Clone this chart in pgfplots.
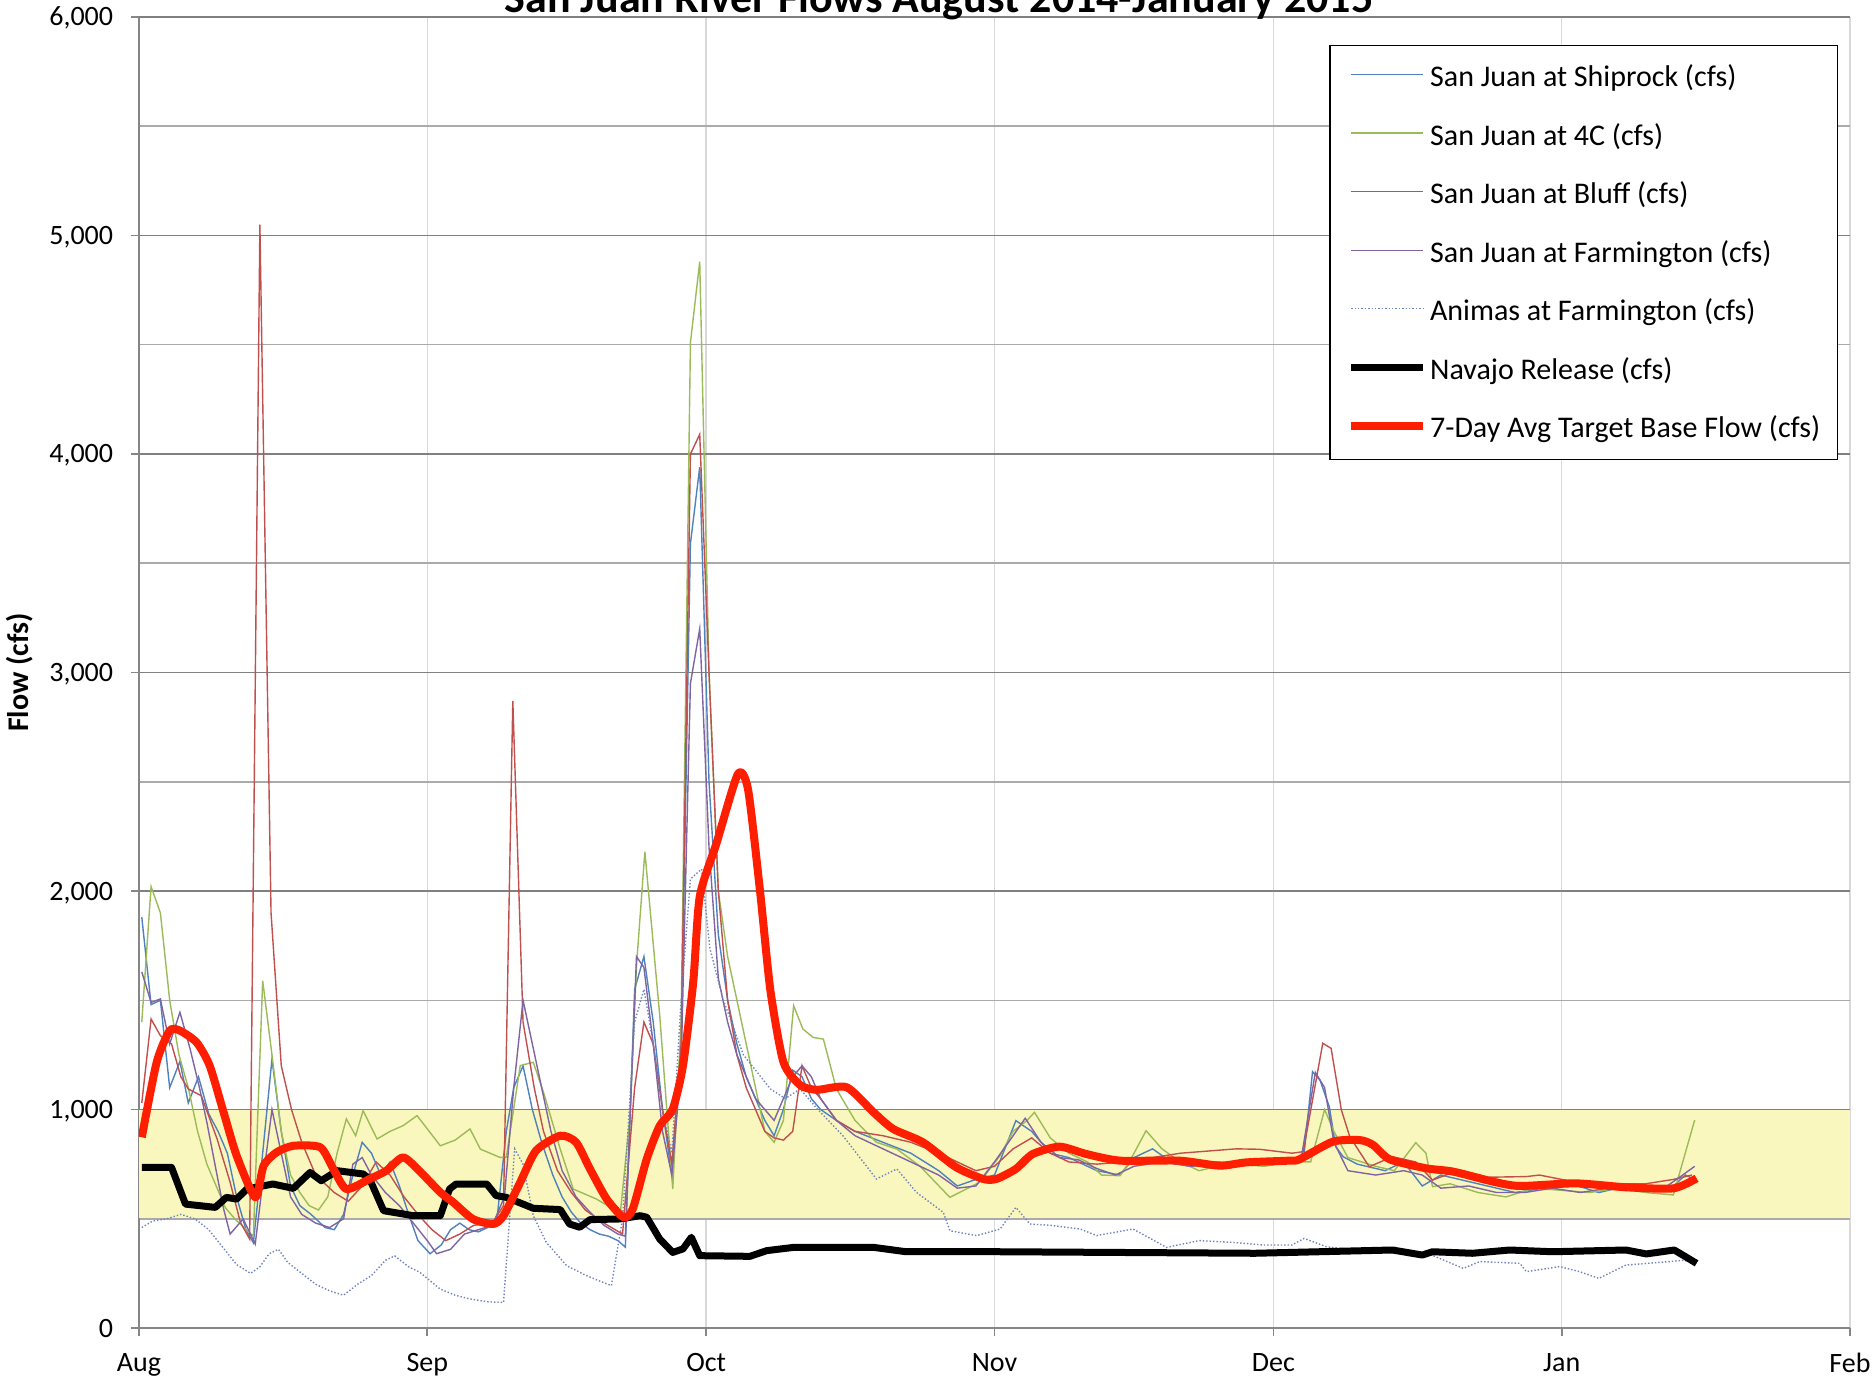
\documentclass[border=0pt]{standalone}
\usepackage{fontspec}
\setmainfont{Carlito}
\usepackage{pgfplots}
\pgfplotsset{compat=1.18}
\definecolor{shipc}{HTML}{4F81BD}
\definecolor{fourc}{HTML}{9BBB59}
\definecolor{bluffc}{HTML}{C0504D}
\definecolor{farmc}{HTML}{8064A2}
\definecolor{animc}{RGB}{110,130,190}
\definecolor{avgc}{RGB}{255,30,0}
\definecolor{bandc}{RGB}{250,247,190}
\definecolor{ygridc}{RGB}{128,128,128}
\definecolor{yminc}{RGB}{170,170,170}
\definecolor{xgridc}{RGB}{217,217,217}
\definecolor{axgray}{RGB}{134,134,134}
\begin{document}
\begin{tikzpicture}
\begin{axis}[
  name=ax,
  scale only axis,
  width=855.5pt, height=655.5pt,
  xmin=0, xmax=184, ymin=0, ymax=6000,
  axis x line*=bottom, axis y line*=left,
  axis line style={color=axgray, line width=1pt},
  xtick={0,31,61,92,122,153,184},
  xticklabels={Aug,Sep,Oct,Nov,Dec,Jan,Feb},
  ytick={0,1000,2000,3000,4000,5000,6000},
  yticklabels={0,{1,000},{2,000},{3,000},{4,000},{5,000},{6,000}},
  minor ytick={500,1500,2500,3500,4500,5500},
  xmajorgrids, ymajorgrids, yminorgrids,
  x grid style={color=xgridc, line width=0.75pt},
  y grid style={color=ygridc, line width=0.75pt},
  minor y grid style={color=yminc, line width=0.75pt},
  tick align=outside,
  major tick length=4pt, minor tick length=0pt,
  tick style={color=axgray, line width=0.8pt},
  tick label style={font=\fontsize{14}{16}\selectfont, text=black},
  xticklabel style={anchor=north, inner sep=0pt, yshift=-8.5pt},
  yticklabel style={anchor=base east, inner sep=0pt, xshift=-8.75pt, yshift=-4.5pt},
  ylabel={Flow (cfs)},
  every axis y label/.style={at={(axis description cs:-0.0696,0.5)}, rotate=90, anchor=center, font=\bfseries\fontsize{15}{18}\selectfont},
  title={San Juan River Flows August 2014-January 2015},
  every axis title/.style={at={(axis description cs:0.4676,1)}, anchor=base, yshift=2pt, font=\bfseries\fontsize{22}{26}\selectfont},
  legend cell align=left,
  legend image code/.code={\draw[#1] (0pt,1.2pt) -- (36pt,1.2pt);},
  legend style={at={(axis description cs:1,1)}, anchor=north east, xshift=-6pt, yshift=-14pt,
    draw=black, line width=0.75pt, fill=white, font=\fontsize{15}{17.5}\selectfont,
    inner xsep=8.5pt, inner ysep=9.4pt, row sep=16.8pt, column sep=1.5pt,
    nodes={inner sep=0pt}},
]
\addplot[fill=bandc, draw=none, forget plot] coordinates {(0,503) (184,503) (184,997) (0,997)} -- cycle;

\addplot[shipc, line width=0.7pt] coordinates {
(0.3,1880)(1.3,1480)(2.3,1500)(3.3,1100)(4.4,1220)(5.3,1030)(6.4,1150)(7.5,980)(8.5,900)(9.5,800)(10.5,600)(11.5,450)(12.3,390)(13.3,800)(14.3,1230)(15.3,900)(16.3,650)(17.3,560)(18.5,520)(20,460)(21,450)(22,520)(23,700)(24,850)(25,800)(26,700)(27,760)(28,650)(29,520)(30,400)(31.3,340)(32.5,380)(33.5,450)(34.5,480)(35.5,450)(36.5,440)(37.5,460)(38.5,500)(39.5,900)(40.3,1100)(41.3,1200)(42.3,1000)(43.3,850)(44.5,700)(45.5,600)(46.5,530)(47.5,480)(48.5,450)(49.5,430)(50.5,420)(51.5,400)(52.3,370)(53.3,1550)(54.3,1700)(55.3,1400)(56.3,1000)(57.3,700)(58.3,1300)(59.3,3590)(60.3,3940)(61.3,2500)(62.3,1800)(63.3,1500)(64.3,1300)(65.3,1150)(66.3,1050)(67.3,950)(68.3,880)(69.3,1000)(70.3,1180)(71.3,1150)(72.3,1050)(73.3,1000)(75,950)(77,900)(80,850)(83,800)(86,720)(88,650)(90,680)(92,700)(94.3,949)(96,900)(98,800)(100,780)(103,720)(105.5,700)(107,780)(109,820)(111,760)(113,740)(116,750)(119,760)(122,750)(124,760)(125.3,800)(126.2,1173)(127,1135)(128,1013)(128.7,830)(129.5,784)(131,750)(134,720)(136,760)(138,650)(140,700)(142,680)(145,650)(148,620)(151,640)(154,660)(157,620)(160,650)(163,640)(165,650)(166.3,700)(167.3,680)
};
\addlegendentry{San Juan at Shiprock (cfs)}

\addplot[fourc, line width=0.7pt] coordinates {
(0.3,1400)(1.3,2020)(2.3,1900)(3.3,1500)(4.3,1250)(5.3,1100)(6.3,900)(7.3,750)(8.3,650)(9.3,550)(10.3,500)(11.3,460)(12.3,420)(13.3,1590)(14.3,1250)(15.3,900)(16.3,700)(17.3,620)(18.3,560)(19.3,540)(20.3,600)(21.3,800)(22.3,957)(23.3,880)(24.1,995)(25.6,865)(27,900)(28.4,926)(29.9,972)(31.3,895)(32.4,834)(34,860)(35.6,911)(36.7,819)(38.8,781)(39.5,781)(41,1201)(42.4,1216)(43.5,1079)(45.3,819)(46.7,636)(49.2,590)(51,545)(51.7,499)(52.8,972)(53.5,1658)(54.4,2180)(56,1430)(57.4,636)(58.3,1400)(59.3,4510)(60.3,4880)(61.3,3000)(62.3,2000)(63.3,1700)(64.3,1500)(65.3,1300)(66.3,1100)(67.3,900)(68.3,850)(69.3,950)(70.4,1475)(71.4,1368)(72.5,1330)(73.6,1322)(75,1094)(77,950)(79.3,850)(81.5,819)(84,740)(87.2,598)(90.4,667)(92.6,789)(94,900)(95.5,950)(96.3,987)(98,870)(100,800)(102,760)(103.5,700)(105.5,697)(106.5,760)(108.3,903)(110,820)(112,760)(114,720)(116,740)(118,750)(121,740)(124,760)(126,760)(127.5,1000)(128.5,900)(130,780)(133,740)(135,720)(137.3,848)(138.4,800)(139.1,647)(141,660)(144,620)(147,600)(150,640)(153,630)(156,620)(159,640)(162,620)(165,609)(167.3,952)
};
\addlegendentry{San Juan at 4C (cfs)}

\addplot[bluffc, line width=0.7pt] coordinates {
(0.3,1030)(1.3,1414)(2.3,1338)(3.5,1300)(4.5,1150)(5.3,1094)(6.7,1063)(8.4,865)(9.8,667)(10.9,484)(11.9,407)(13,5050)(14.2,1900)(15.3,1200)(16.4,1000)(17.5,850)(19,700)(21,620)(22.5,580)(24,650)(25.5,760)(27,700)(28.5,600)(30,520)(31.5,450)(33,400)(34.5,430)(36,470)(38,480)(39.2,560)(40.2,2870)(41.3,1400)(42.5,1100)(43.5,900)(45,720)(46.5,620)(48,540)(50,480)(52,430)(53.3,1100)(54.3,1400)(55.3,1300)(56.3,1000)(57.3,750)(58.3,1300)(59.3,4000)(60.3,4090)(61.3,3000)(62.3,2000)(63.3,1500)(64.3,1250)(65.3,1100)(66.3,1000)(67.3,900)(68.3,870)(69.3,860)(70.3,900)(71.3,1200)(72.3,1100)(73.3,1050)(75,950)(77,900)(80,880)(83,850)(86,800)(88,760)(90,720)(92,740)(94,820)(96,870)(98,800)(100,760)(103,750)(106,760)(109,780)(112,800)(115,810)(118,820)(120.5,818)(124,800)(125.2,807)(127.3,1303)(128.2,1280)(129.3,998)(130.2,876)(132.3,738)(134.8,784)(137.3,760)(139.1,677)(142,723)(145,690)(149.2,693)(150.6,700)(153,680)(156,660)(159,660)(162,660)(165,680)(167,700)
};
\addlegendentry{San Juan at Bluff (cfs)}

\addplot[farmc, line width=0.7pt] coordinates {
(0.3,1630)(1.3,1490)(2.3,1506)(3.3,1300)(4.4,1445)(5.5,1277)(6.5,1100)(7.3,941)(8.3,720)(9.1,545)(9.8,430)(11.2,499)(12.5,384)(13.4,700)(14.3,1000)(15.3,800)(16.3,600)(17.5,520)(19,480)(20.5,460)(22,500)(23,750)(24,780)(25,700)(26.5,620)(28,560)(29.5,480)(31,400)(32,340)(33.5,360)(35,430)(36.5,450)(38,470)(39.3,600)(40.3,1100)(41.3,1500)(42.3,1300)(43.3,1100)(44.3,900)(45.5,720)(47,600)(48.5,530)(50,470)(51.5,430)(52.3,420)(53.5,1700)(54.3,1650)(55.3,1300)(56.3,900)(57.3,700)(58.3,1200)(59.3,2950)(60.3,3200)(61.3,2200)(62.3,1600)(63.3,1400)(64.3,1250)(65.3,1150)(66.3,1050)(67.3,1000)(68.3,950)(69.3,1050)(70.3,1150)(71.3,1200)(72.3,1150)(73.3,1050)(75,950)(77,880)(80,820)(83,760)(86,700)(88,640)(90,650)(92,760)(94,880)(95.3,960)(97,850)(99,780)(101,770)(103,730)(105,700)(107,740)(110,760)(113,740)(116,760)(119,750)(122,760)(125,780)(126.5,1170)(127.5,1100)(128.5,850)(130,720)(133,700)(136,720)(138,700)(140,640)(143,650)(146,620)(149,620)(152,640)(155,620)(158,640)(161,660)(164,640)(166,700)(167.3,740)
};
\addlegendentry{San Juan at Farmington (cfs)}

\addplot[animc, line width=0.7pt, densely dotted] coordinates {
(0.3,460)(1.5,490)(3,500)(4.5,520)(6,500)(7.5,450)(9,370)(10.5,290)(12,250)(13,280)(14,340)(15,360)(16,300)(17.5,250)(19,200)(20.5,170)(22,150)(23.5,200)(25,240)(26.5,310)(27.5,330)(29,280)(30.2,255)(32.4,178)(34,150)(35.6,133)(37.5,120)(39.2,117)(40.4,820)(41.3,750)(42.4,514)(43.8,392)(46,285)(48.1,240)(49.9,209)(50.8,194)(52,500)(53.3,1400)(54.3,1550)(55.3,1300)(56.3,1000)(57.3,800)(58.3,1500)(59.3,2055)(60.5,2100)(61.4,1735)(62.8,1506)(65,1250)(67.9,1094)(69.5,1050)(71.1,1094)(73,1000)(75.7,880)(79.3,682)(81.5,728)(83.6,621)(86.5,529)(87.2,445)(90.1,423)(92.6,453)(94.3,552)(95.8,476)(98,470)(101.2,453)(103,423)(106.9,453)(110.5,369)(114,400)(117.6,392)(120.9,380)(124,380)(125.3,410)(127.7,372)(130,360)(133,350)(136,340)(139,334)(142.4,273)(144.2,304)(148.5,296)(149.2,258)(152.8,281)(154.9,258)(157,227)(159.9,288)(164.6,304)(166,310)(167.5,300)
};
\addlegendentry{Animas at Farmington (cfs)}

\addplot[black, line width=3.5pt, line join=round] coordinates {
(0.3,735)(3.5,735)(5,567)(8.2,552)(9.4,598)(10.5,590)(11.6,636)(14.4,659)(16.6,639)(18.4,712)(19.6,674)(21.3,720)(24.1,705)(24.8,682)(26.3,537)(29.5,514)(32.4,514)(33.4,636)(34.1,659)(37.4,659)(38.4,606)(39.5,598)(42.4,548)(45.3,542)(46.3,476)(47.4,461)(48.5,496)(51.7,499)(53.9,514)(54.6,507)(56,407)(57.4,346)(58.5,362)(59.4,415)(60.3,331)(65.7,328)(67.5,354)(70.4,369)(79,369)(82.5,349)(92.6,349)(120,342)(134.8,357)(138,334)(139.1,349)(143.4,342)(147.4,357)(152,349)(159.9,357)(162.1,339)(165.1,357)(167.5,296)
};
\addlegendentry{Navajo Release (cfs)}

\addplot[avgc, line width=4pt, line join=round, smooth, tension=0.4] coordinates {
(0.3,873)(1.9,1216)(3.3,1361)(4.4,1361)(6.2,1307)(7.6,1201)(9.1,987)(10.5,789)(12.5,598)(13.4,743)(14.8,804)(16.6,834)(19.5,827)(20.9,728)(22.3,636)(24.8,682)(26.6,720)(28.4,781)(30.2,717)(32.4,621)(33.8,575)(35.9,499)(38.1,476)(39.2,514)(41,667)(42.7,812)(45.3,880)(47,850)(48.5,728)(50.3,590)(52.1,507)(53.1,545)(54.6,773)(56,926)(57.4,1002)(58.5,1201)(59.6,1582)(60.3,1974)(62.1,2218)(64.4,2535)(65.5,2464)(66.8,1994)(67.9,1545)(69.3,1217)(71.1,1112)(72.9,1090)(76.1,1102)(79,987)(81.1,911)(84.3,850)(87.9,735)(90.8,682)(92.2,682)(94.3,728)(96.1,796)(99,830)(101.9,796)(105.5,766)(111.9,766)(116.2,743)(119.1,758)(123.7,766)(124.8,772)(128.4,853)(131.3,860)(132.7,838)(134.5,772)(138.4,731)(141.3,716)(145.6,670)(148.5,650)(154.5,662)(159.9,644)(165,639)(167.5,685)
};
\addlegendentry{7-Day Avg Target Base Flow (cfs)}
\end{axis}
\pgfresetboundingbox
\path[use as bounding box] ([xshift=-69.5pt,yshift=-27.5pt]ax.south west) rectangle ([xshift=12pt,yshift=8.5pt]ax.north east);
\end{tikzpicture}
\end{document}
